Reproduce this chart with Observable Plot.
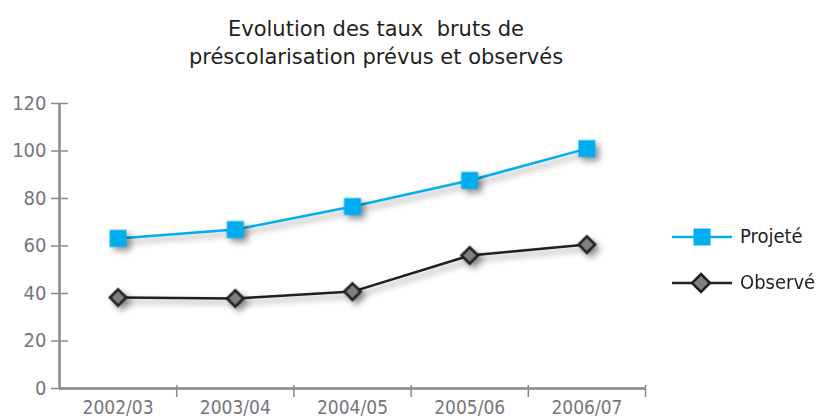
<!DOCTYPE html>
<html>
<head>
<meta charset="utf-8">
<script src="https://cdn.jsdelivr.net/npm/d3@7"></script>
<script src="https://cdn.jsdelivr.net/npm/@observablehq/plot@0.6"></script>
<style>
  body { margin: 0; background: #fff; }
  #wrap { position: relative; width: 818px; height: 418px; overflow: hidden; font-family: "DejaVu Sans Condensed", "DejaVu Sans", sans-serif; }
  #title { position: absolute; left: 0; top: 15px; width: 752px; text-align: center; font-family: "DejaVu Sans", sans-serif; font-size: 21px; line-height: 28px; color: #231f20; }
  #chart { position: absolute; left: 0; top: 80px; }
  .leg { position: absolute; left: 670px; width: 148px; height: 30px; }
  .leg svg { position: absolute; left: 0; top: 0; }
  .leg span { position: absolute; left: 70px; top: 2px; font-size: 20px; color: #231f20; }
</style>
</head>
<body>
<div id="wrap">
  <div id="title">Evolution des taux&nbsp; bruts de<br>préscolarisation prévus et observés</div>
  <div id="chart"></div>
  <div class="leg" style="top:222px">
    <svg width="70" height="30"><line x1="2" x2="62" y1="15" y2="15" stroke="#00AEEF" stroke-width="2.5"/><rect x="23.5" y="6.5" width="17" height="17" fill="#00AEEF"/></svg>
    <span>Projeté</span>
  </div>
  <div class="leg" style="top:268px">
    <svg width="70" height="30"><line x1="2" x2="62" y1="15" y2="15" stroke="#231f20" stroke-width="2.5"/><path d="M31,6 L40,15 L31,24 L22,15 Z" fill="#808080" stroke="#231f20" stroke-width="2.5"/></svg>
    <span>Observé</span>
  </div>
</div>
<script>
const years = ["2002/03", "2003/04", "2004/05", "2005/06", "2006/07"];
const projete = [63.2, 66.9, 76.6, 87.6, 101];
const observe = [38.3, 37.9, 40.8, 56.0, 60.6];
const yTicks = [0, 20, 40, 60, 80, 100, 120];

const idx = years.map((_, i) => i);
const bounds = d3.range(years.length + 1).map(i => i - 0.5);
const dataP = idx.map(i => ({i, v: projete[i]}));
const dataO = idx.map(i => ({i, v: observe[i]}));

const axisColor = "#8a8a8c";
const shadow = "drop-shadow(4px 4px 3px rgba(0,0,0,0.4))";

const plot = Plot.plot({
  width: 818,
  height: 338,
  marginLeft: 59,
  marginRight: 173,
  marginTop: 23,
  marginBottom: 30,
  style: {fontFamily: "'DejaVu Sans Condensed', 'DejaVu Sans', sans-serif", fontSize: "20px", background: "transparent"},
  x: {domain: [-0.5, years.length - 0.5], axis: null},
  y: {domain: [0, 120], axis: null},
  marks: [
    Plot.ruleX([-0.5], {y1: 0, y2: 120, stroke: axisColor, strokeWidth: 2.5}),
    Plot.ruleY(yTicks, {x1: -0.5, x2: -0.5, insetLeft: -8, insetRight: -9, stroke: axisColor, strokeWidth: 1.5}),
    Plot.text(yTicks, {x: -0.5, y: d => d, text: d => String(d), textAnchor: "end", dx: -13, fill: "#76767a", fontSize: 20}),
    Plot.ruleY([0], {x1: -0.5, x2: years.length - 0.5, stroke: axisColor, strokeWidth: 2.5}),
    Plot.ruleX(bounds.slice(1), {y1: 0, y2: 0, insetTop: -3, insetBottom: -9, stroke: axisColor, strokeWidth: 1.5}),
    Plot.text(idx, {x: d => d, y: 0, text: d => years[d], dy: 19, fill: "#76767a", fontSize: 19}),
    Plot.line(dataP, {x: "i", y: "v", stroke: "#00AEEF", strokeWidth: 2.5, imageFilter: shadow}),
    Plot.dot(dataP, {x: "i", y: "v", symbol: "square", r: 9.6, fill: "#00AEEF", stroke: "none", imageFilter: shadow}),
    Plot.line(dataO, {x: "i", y: "v", stroke: "#231f20", strokeWidth: 2.5, imageFilter: shadow}),
    Plot.dot(dataO, {x: "i", y: "v", symbol: "diamond2", r: 7.4, fill: "#808080", stroke: "#231f20", strokeWidth: 2.6, imageFilter: shadow})
  ]
});
document.getElementById("chart").appendChild(plot);
</script>
</body>
</html>
